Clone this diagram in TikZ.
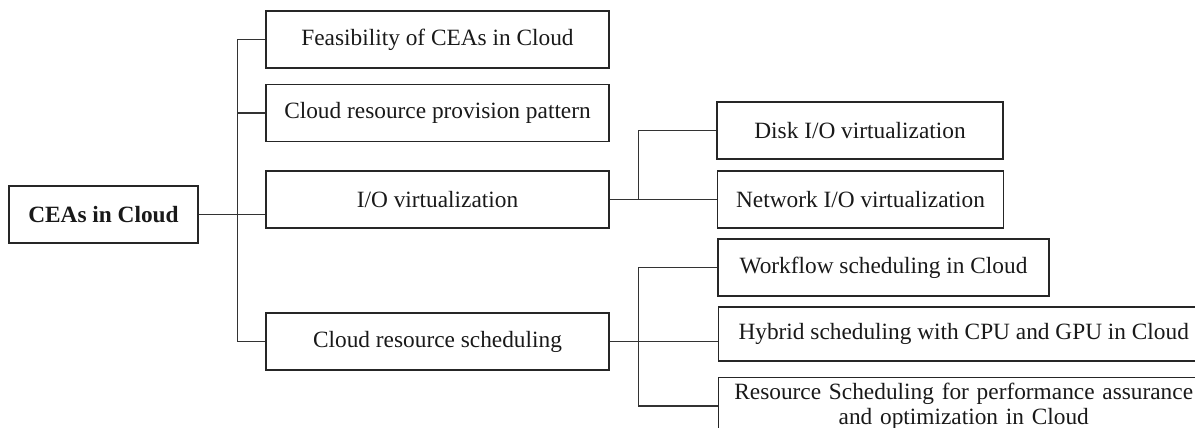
\documentclass[tikz,border=0pt]{standalone}
\usepackage{fontspec}
\setmainfont{Liberation Serif}

\begin{document}
\begin{tikzpicture}[x=0.75pt,y=-0.75pt,
	box/.style={draw=black!85, line width=1.1pt, text=black!90, inner sep=0pt,
		font=\fontsize{17.5}{18.75}\selectfont, minimum height=42.75pt},
	link/.style={draw=black!80, line width=1.1pt}]
	\useasboundingbox (0,0) rectangle (1195,428);
	\clip (0,0) rectangle (1195,428);
	% Root of the tree
	\node[box, minimum width=141.75pt, font=\fontsize{17.5}{18.75}\selectfont\bfseries] (root) at (103.5,214.5) {CEAs in Cloud};
	% First level topics
	\node[box, minimum width=257.25pt] (feas) at (437.5,39.5) {Feasibility of CEAs in Cloud};
	\node[box, minimum width=257.25pt] (prov) at (437.5,113) {Cloud resource provision pattern};
	\node[box, minimum width=257.25pt] (iov) at (437.5,199.5) {I/O virtualization};
	\node[box, minimum width=257.25pt] (sched) at (437.5,341.5) {Cloud resource scheduling};
	% Second level topics
	\node[box, minimum width=214.5pt] (disk) at (860,130.5) {Disk I/O virtualization};
	\node[box, minimum width=214.5pt] (net) at (860.5,199.5) {Network I/O virtualization};
	\node[box, minimum width=248.25pt] (wflow) at (883.5,267.5) {Workflow scheduling in Cloud};
	% these two run past the right margin
	\node[box, anchor=west, minimum width=367.5pt, minimum height=40.5pt] (hybrid) at (718,334) {Hybrid scheduling with CPU and GPU in Cloud};
	\node[box, anchor=north west, minimum height=0pt, inner ysep=3.75pt, text width=367.5pt, align=center] (res) at (718,377) {Resource Scheduling for performance assurance\\and optimization in Cloud};
	% Trunk joining the first level
	\path (feas.west) ++(-28,0) coordinate (trunk);
	\draw[link] (feas.west) -- (trunk) |- (sched.west);
	\draw[link] (prov.west) -- (prov.west -| trunk);
	\draw[link] (root.east) -- (root.east -| iov.west);
	% I/O branch
	\path (iov.east) ++(29,0) coordinate (iobr);
	\draw[link] (iov.east) -- (net.west);
	\draw[link] (disk.west) -| (iobr);
	% Scheduling branch
	\path (sched.east) ++(29,0) coordinate (schbr);
	\draw[link] (sched.east) -- (sched.east -| hybrid.west);
	\draw[link] (wflow.west) -| (schbr) |- (res.west);
\end{tikzpicture}
\end{document}
